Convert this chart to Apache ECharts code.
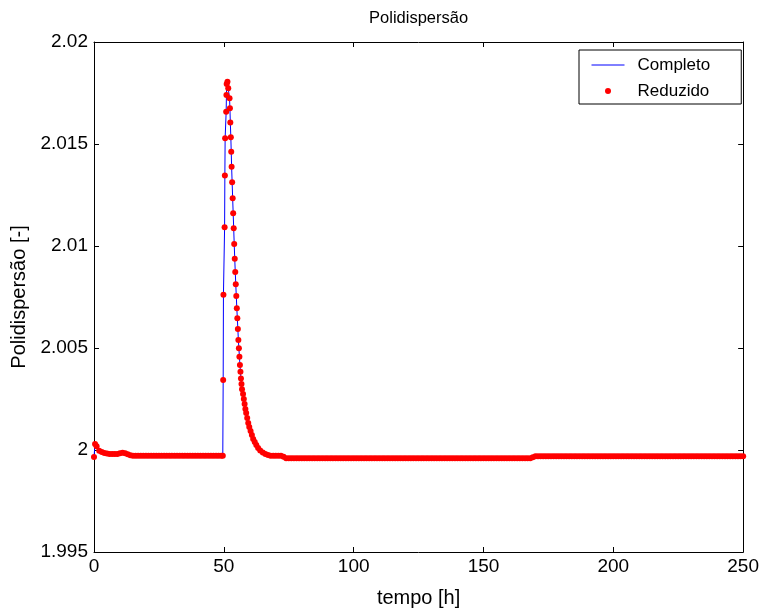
<!DOCTYPE html>
<html><head><meta charset="utf-8">
<script src="https://cdn.jsdelivr.net/npm/echarts@6/dist/echarts.min.js"></script>
<style>html,body{margin:0;padding:0;background:#fff}#c{width:762px;height:613px}</style>
</head><body><div id="c"></div>
<script>
const titulo = 'Polidispersão';
const xNome = 'tempo [h]';
const yNome = 'Polidispersão [-]';
const nomesSeries = ['Completo', 'Reduzido'];

// Completo (linha)
const completoTempo = [
  0, 0.4, 1, 2, 3, 4, 5, 6, 7, 8, 9, 10, 11, 12, 13, 14, 15, 49.6,
  49.75, 49.85, 50.3, 50.4, 50.5, 50.9, 51.0, 51.1, 51.4, 51.7,
  52.2, 52.35, 52.5, 52.7, 52.85, 53.0, 53.2, 53.4, 53.6, 53.8, 54.0, 54.2, 54.4, 54.6, 54.8, 55.0, 55.2, 55.4, 55.6, 55.8, 56.0, 56.2, 56.4, 56.6, 56.8, 57.0,
  57.4, 57.7, 58.0, 58.3, 58.6, 59.0, 59.4, 59.8, 60.3, 60.8, 61.3, 61.9, 62.5, 63.2, 64.0, 65.0, 66.0, 67.0,
  72, 73, 74, 168, 169, 170, 250
];
const completoValor = [
  1.99966, 2.00029, 2.00018, 1.99996, 1.9999, 1.99985, 1.99983, 1.99981, 1.9998, 1.9998, 1.99981, 1.99984, 1.99986, 1.99984, 1.99979, 1.99974, 1.99972, 1.99972,
  2.00343, 2.00761, 2.01092, 2.01345, 2.01528, 2.01658, 2.0174, 2.01794, 2.01805, 2.01773,
  2.01724, 2.01675, 2.01606, 2.01533, 2.01462, 2.01389, 2.01312, 2.01234, 2.0116, 2.01087, 2.0101, 2.00938, 2.00873, 2.00812, 2.00755, 2.00695, 2.00646, 2.00593, 2.00539, 2.00499, 2.00457, 2.00417, 2.00384, 2.00351, 2.00324, 2.00298,
  2.00275, 2.0025, 2.00225, 2.00201, 2.00181, 2.00157, 2.00132, 2.00113, 2.00093, 2.00074, 2.00054, 2.00039, 2.00025, 2.0001, 1.99998, 1.99988, 1.9998, 1.99975,
  1.99972, 1.99967, 1.9996, 1.99959, 1.99965, 1.99969, 1.99969
];

// Reduzido (pontos)
const reduzidoTempo = [
  0, 0.4, 1, 2, 3, 4, 5, 6, 7, 8, 9, 10, 11, 12, 13, 14, 15, 16, 17, 18, 19, 20,
  21, 22, 23, 24, 25, 26, 27, 28, 29, 30, 31, 32, 33, 34, 35, 36, 37, 38, 39, 40,
  41, 42, 43, 44, 45, 46, 47, 48, 49, 49.6,
  49.75, 49.85, 50.3, 50.4, 50.5, 50.9, 51.0, 51.1, 51.4, 51.7,
  52.2, 52.35, 52.5, 52.7, 52.85, 53.0, 53.2, 53.4, 53.6, 53.8, 54.0, 54.2, 54.4, 54.6, 54.8, 55.0, 55.2, 55.4, 55.6, 55.8, 56.0, 56.2, 56.4, 56.6, 56.8, 57.0,
  57.4, 57.7, 58.0, 58.3, 58.6, 59.0, 59.4, 59.8, 60.3, 60.8, 61.3, 61.9, 62.5, 63.2, 64.0, 65.0, 66.0, 67.0,
  68, 69, 70, 71, 72, 73, 74, 75, 76, 77, 78, 79, 80, 81, 82, 83, 84, 85, 86, 87,
  88, 89, 90, 91, 92, 93, 94, 95, 96, 97, 98, 99, 100, 101, 102, 103, 104, 105, 106, 107,
  108, 109, 110, 111, 112, 113, 114, 115, 116, 117, 118, 119, 120, 121, 122, 123, 124, 125, 126, 127,
  128, 129, 130, 131, 132, 133, 134, 135, 136, 137, 138, 139, 140, 141, 142, 143, 144, 145, 146, 147,
  148, 149, 150, 151, 152, 153, 154, 155, 156, 157, 158, 159, 160, 161, 162, 163, 164, 165, 166, 167,
  168, 169, 170, 171, 172, 173, 174, 175, 176, 177, 178, 179, 180, 181, 182, 183, 184, 185, 186, 187,
  188, 189, 190, 191, 192, 193, 194, 195, 196, 197, 198, 199, 200, 201, 202, 203, 204, 205, 206, 207,
  208, 209, 210, 211, 212, 213, 214, 215, 216, 217, 218, 219, 220, 221, 222, 223, 224, 225, 226, 227,
  228, 229, 230, 231, 232, 233, 234, 235, 236, 237, 238, 239, 240, 241, 242, 243, 244, 245, 246, 247,
  248, 249, 250
];
const reduzidoValor = [
  1.99966, 2.00029, 2.00018, 1.99996, 1.9999, 1.99985, 1.99983, 1.99981, 1.9998, 1.9998, 1.99981, 1.99984, 1.99986, 1.99984, 1.99979, 1.99974,
  1.99972, 1.99972, 1.99972, 1.99972, 1.99972, 1.99972, 1.99972, 1.99972, 1.99972, 1.99972,
  1.99972, 1.99972, 1.99972, 1.99972, 1.99972, 1.99972, 1.99972, 1.99972, 1.99972, 1.99972,
  1.99972, 1.99972, 1.99972, 1.99972, 1.99972, 1.99972, 1.99972, 1.99972, 1.99972, 1.99972,
  1.99972, 1.99972, 1.99972, 1.99972, 1.99972, 1.99972,
  2.00343, 2.00761, 2.01092, 2.01345, 2.01528, 2.01658, 2.0174, 2.01794, 2.01805, 2.01773,
  2.01724, 2.01675, 2.01606, 2.01533, 2.01462, 2.01389, 2.01312, 2.01234, 2.0116, 2.01087, 2.0101, 2.00938, 2.00873, 2.00812, 2.00755, 2.00695, 2.00646, 2.00593, 2.00539, 2.00499, 2.00457, 2.00417, 2.00384, 2.00351, 2.00324, 2.00298,
  2.00275, 2.0025, 2.00225, 2.00201, 2.00181, 2.00157, 2.00132, 2.00113, 2.00093, 2.00074, 2.00054, 2.00039, 2.00025, 2.0001, 1.99998, 1.99988, 1.9998, 1.99975,
  1.99972, 1.99972, 1.99972, 1.99972, 1.99972, 1.99967, 1.9996,
  1.99959, 1.99959, 1.99959, 1.99959, 1.99959, 1.99959, 1.99959, 1.99959, 1.99959, 1.99959,
  1.99959, 1.99959, 1.99959, 1.99959, 1.99959, 1.99959, 1.99959, 1.99959, 1.99959, 1.99959,
  1.99959, 1.99959, 1.99959, 1.99959, 1.99959, 1.99959, 1.99959, 1.99959, 1.99959, 1.99959,
  1.99959, 1.99959, 1.99959, 1.99959, 1.99959, 1.99959, 1.99959, 1.99959, 1.99959, 1.99959,
  1.99959, 1.99959, 1.99959, 1.99959, 1.99959, 1.99959, 1.99959, 1.99959, 1.99959, 1.99959,
  1.99959, 1.99959, 1.99959, 1.99959, 1.99959, 1.99959, 1.99959, 1.99959, 1.99959, 1.99959,
  1.99959, 1.99959, 1.99959, 1.99959, 1.99959, 1.99959, 1.99959, 1.99959, 1.99959, 1.99959,
  1.99959, 1.99959, 1.99959, 1.99959, 1.99959, 1.99959, 1.99959, 1.99959, 1.99959, 1.99959,
  1.99959, 1.99959, 1.99959, 1.99959, 1.99959, 1.99959, 1.99959, 1.99959, 1.99959, 1.99959,
  1.99959, 1.99959, 1.99959, 1.99959,
  1.99965,
  1.99969, 1.99969, 1.99969, 1.99969, 1.99969, 1.99969, 1.99969, 1.99969, 1.99969, 1.99969,
  1.99969, 1.99969, 1.99969, 1.99969, 1.99969, 1.99969, 1.99969, 1.99969, 1.99969, 1.99969,
  1.99969, 1.99969, 1.99969, 1.99969, 1.99969, 1.99969, 1.99969, 1.99969, 1.99969, 1.99969,
  1.99969, 1.99969, 1.99969, 1.99969, 1.99969, 1.99969, 1.99969, 1.99969, 1.99969, 1.99969,
  1.99969, 1.99969, 1.99969, 1.99969, 1.99969, 1.99969, 1.99969, 1.99969, 1.99969, 1.99969,
  1.99969, 1.99969, 1.99969, 1.99969, 1.99969, 1.99969, 1.99969, 1.99969, 1.99969, 1.99969,
  1.99969, 1.99969, 1.99969, 1.99969, 1.99969, 1.99969, 1.99969, 1.99969, 1.99969, 1.99969,
  1.99969, 1.99969, 1.99969, 1.99969, 1.99969, 1.99969, 1.99969, 1.99969, 1.99969, 1.99969,
  1.99969
];

const FONT = "'Liberation Sans', Arial, Helvetica, sans-serif";
const FS_TICK = 19;
const FS_NAME = 20;
const FS_TITLE = 16.5;
const FS_LEG = 17;

const completoData = completoTempo.map((t, i) => [t, completoValor[i]]);
const reduzidoData = reduzidoTempo.map((t, i) => [t, reduzidoValor[i]]);

const axisCommon = {
  type: 'value',
  axisLine: { show: true, onZero: false, lineStyle: { color: '#000', width: 1 } },
  axisTick: { show: true, inside: true, length: 5, lineStyle: { color: '#000', width: 1 } },
  splitLine: { show: false },
  nameTextStyle: { fontSize: FS_NAME, color: '#000', fontFamily: FONT },
  nameLocation: 'middle'
};

const chart = echarts.init(document.getElementById('c'), null, { renderer: 'canvas' });
chart.setOption({
  animation: false,
  backgroundColor: '#fff',
  grid: { left: 94, right: 18, top: 42, bottom: 61, containLabel: false },
  legend: {
    orient: 'vertical', left: 579, top: 50,
    padding: [5, 31, 3, 12],
    itemWidth: 33, itemHeight: 6, itemGap: 6,
    borderColor: '#000', borderWidth: 1, backgroundColor: '#fff',
    selectedMode: false,
    textStyle: { fontSize: FS_LEG, color: '#000', fontFamily: FONT, lineHeight: 20, padding: [0, 0, 0, 8] },
    data: [
      { name: nomesSeries[0], itemStyle: { opacity: 0 }, lineStyle: { width: 1, color: '#0000ff' } },
      { name: nomesSeries[1], itemStyle: { opacity: 1, color: '#ff0000' } }
    ]
  },
  xAxis: [
    Object.assign({}, axisCommon, {
      position: 'bottom', min: 0, max: 250, interval: 50,
      name: xNome, nameGap: 36,
      axisLabel: { color: '#000', fontSize: FS_TICK, fontFamily: FONT, margin: 5 }
    }),
    Object.assign({}, axisCommon, {
      position: 'top', min: 0, max: 250, interval: 50,
      name: titulo, nameGap: 15,
      nameTextStyle: { fontSize: FS_TITLE, color: '#000', fontFamily: FONT },
      axisLabel: { show: false }
    })
  ],
  yAxis: [
    Object.assign({}, axisCommon, {
      position: 'left', min: 1.995, max: 2.02, interval: 0.005,
      name: yNome, nameGap: 61,
      axisLabel: { color: '#000', fontSize: FS_TICK, fontFamily: FONT, margin: 6,
        formatter: v => String(+(+v).toFixed(3)) }
    }),
    Object.assign({}, axisCommon, {
      position: 'right', min: 1.995, max: 2.02, interval: 0.005,
      axisLabel: { show: false }
    })
  ],
  series: [
    {
      name: nomesSeries[0], type: 'line', xAxisIndex: 0, yAxisIndex: 0,
      data: completoData, symbol: 'none', showSymbol: false,
      lineStyle: { color: '#0000ff', width: 1 }, itemStyle: { color: '#0000ff' }, z: 2
    },
    {
      name: nomesSeries[1], type: 'scatter', xAxisIndex: 0, yAxisIndex: 0,
      data: reduzidoData, symbol: 'circle', symbolSize: 6,
      itemStyle: { color: '#ff0000', opacity: 1 }, z: 3
    }
  ]
});
</script>
</body></html>
